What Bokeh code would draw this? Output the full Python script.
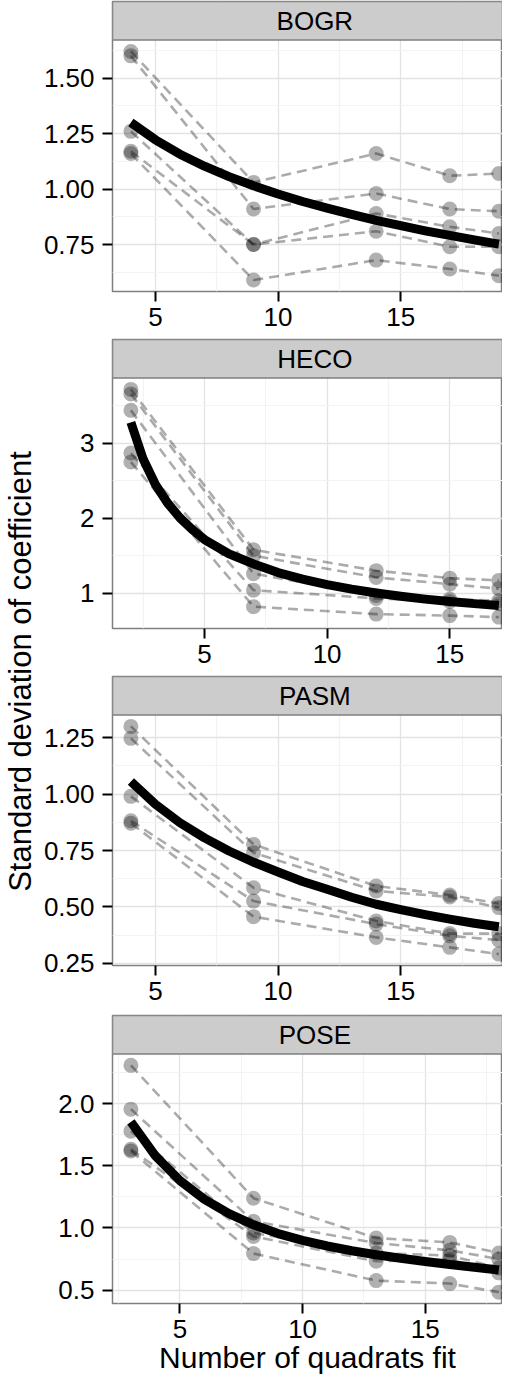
import math
from bokeh.plotting import figure
from bokeh.layouts import row, column
from bokeh.models import Range1d, FixedTicker, PrintfTickFormatter
from bokeh.core.properties import value
from bokeh.embed import file_html
from bokeh.resources import INLINE

FONT = "Liberation Sans"

# ---------------- data ----------------
bogr_x = [4, 9, 14, 17, 19]
bogr_reps = [
    [1.62, 1.03, 1.16, 1.06, 1.07],
    [1.60, 0.91, 0.98, 0.91, 0.90],
    [1.26, 0.75, 0.89, 0.83, 0.80],
    [1.17, 0.75, 0.81, 0.74, 0.74],
    [1.16, 0.59, 0.68, 0.64, 0.61],
]
bogr_curve_x = [4, 5, 6, 7, 8, 9, 10, 11, 12, 13, 14, 15, 16, 17, 18, 19]
bogr_curve_y = [1.300, 1.222, 1.157, 1.103, 1.056, 1.015, 0.978, 0.944,
                0.914, 0.886, 0.859, 0.835, 0.812, 0.791, 0.771, 0.752]
bogr_yticks = [0.75, 1.00, 1.25, 1.50]
bogr_yminor = [0.625, 0.875, 1.125, 1.375, 1.625]
bogr_xminor = [7.5, 12.5, 17.5]

heco_x = [2, 7, 12, 15, 17]
heco_reps = [
    [3.72, 1.58, 1.30, 1.20, 1.17],
    [3.66, 1.50, 1.21, 1.12, 1.06],
    [3.44, 1.26, 0.97, 0.92, 0.90],
    [2.87, 1.04, 0.93, 0.89, 0.86],
    [2.75, 0.82, 0.72, 0.70, 0.68],
]
heco_curve_x = [2, 2.5, 3, 3.5, 4, 4.5, 5, 6, 7, 8, 9, 10, 11, 12, 13, 14, 15, 16, 17]
heco_curve_y = [3.28, 2.79, 2.45, 2.20, 2.005, 1.85, 1.715, 1.525, 1.39, 1.275,
                1.187, 1.114, 1.054, 1.002, 0.958, 0.920, 0.888, 0.860, 0.835]
heco_yticks = [1, 2, 3]
heco_yminor = [1.5, 2.5, 3.5]
heco_xminor = [2.5, 7.5, 12.5, 17.5]

pasm_x = [4, 9, 14, 17, 19]
pasm_reps = [
    [1.300, 0.777, 0.593, 0.553, 0.515],
    [1.247, 0.740, 0.571, 0.544, 0.497],
    [0.990, 0.585, 0.438, 0.382, 0.382],
    [0.882, 0.526, 0.424, 0.372, 0.353],
    [0.871, 0.457, 0.365, 0.321, 0.291],
]
pasm_curve_x = [4, 5, 6, 7, 8, 9, 10, 11, 12, 13, 14, 15, 16, 17, 18, 19]
pasm_curve_y = [1.056, 0.955, 0.873, 0.806, 0.748, 0.698, 0.655, 0.613,
                0.578, 0.543, 0.512, 0.488, 0.466, 0.446, 0.428, 0.412]
pasm_yticks = [0.25, 0.50, 0.75, 1.00, 1.25]
pasm_yminor = [0.375, 0.625, 0.875, 1.125]
pasm_xminor = [7.5, 12.5, 17.5]

pose_x = [3, 8, 13, 16, 18]
pose_reps = [
    [2.307, 1.239, 0.919, 0.884, 0.799],
    [1.955, 1.053, 0.879, 0.820, 0.751],
    [1.778, 0.959, 0.799, 0.778, 0.679],
    [1.632, 0.932, 0.732, 0.746, 0.639],
    [1.618, 0.794, 0.577, 0.553, 0.484],
]
pose_curve_x = [3, 4, 5, 6, 7, 8, 9, 10, 11, 12, 13, 14, 15, 16, 17, 18]
pose_curve_y = [1.853, 1.58, 1.38, 1.23, 1.115, 1.025, 0.955, 0.90,
                0.855, 0.817, 0.785, 0.757, 0.731, 0.707, 0.684, 0.662]
pose_yticks = [0.5, 1.0, 1.5, 2.0]
pose_yminor = [0.75, 1.25, 1.75, 2.25]
pose_xminor = [2.5, 7.5, 12.5, 17.5]

x_ticks = [5, 10, 15]
x_title = "Number of quadrats fit"
y_title = "Standard deviation of coefficient"

# ---------------- layout constants ----------------
FRAME_W = 390
STRIP_H = 38.5
VIS_SPAN = 15.9      # the reference is cropped on the right
LEFT_B = 72
TITLE_W = 40
TOTAL_H = 1373


def make_panel(name, xs, reps, cx, cy, yticks, yminor, xminor, yfmt,
               frame_h, top_b, bot_b, xlabel=None):
    allv = [v for r in reps for v in r]
    ymin, ymax = min(allv), max(allv)
    yr = ymax - ymin
    ylo, yhi = ymin - 0.05 * yr, ymax + 0.05 * yr
    plot_h = frame_h - STRIP_H
    ytop = yhi + STRIP_H / plot_h * (yhi - ylo)
    xlo = min(xs) - 0.05 * (max(xs) - min(xs))
    xhi = xlo + VIS_SPAN

    p = figure(frame_width=FRAME_W, frame_height=frame_h,
               min_border_left=LEFT_B, min_border_right=0,
               min_border_top=top_b, min_border_bottom=bot_b,
               x_range=Range1d(xlo, xhi), y_range=Range1d(ylo, ytop),
               output_backend="svg", toolbar_location=None)
    p.background_fill_color = "white"
    p.border_fill_color = "white"
    p.outline_line_color = "#7f7f7f"
    p.outline_line_width = 1.5

    p.xaxis.ticker = FixedTicker(ticks=x_ticks, minor_ticks=xminor)
    p.yaxis.ticker = FixedTicker(ticks=yticks, minor_ticks=yminor)
    p.yaxis.formatter = PrintfTickFormatter(format=yfmt)
    for ax in p.axis:
        ax.axis_line_color = None
        ax.major_tick_line_color = "black"
        ax.major_tick_line_width = 2
        ax.major_tick_out = 10
        ax.major_tick_in = 0
        ax.minor_tick_line_color = None
        ax.major_label_text_font = FONT
        ax.major_label_text_font_size = "26px"
        ax.major_label_text_color = "black"
    p.xaxis.major_label_standoff = 6
    p.yaxis.major_label_standoff = 8

    for g in (p.xgrid, p.ygrid):
        g.grid_line_color = "#e3e3e3"
        g.grid_line_width = 1.3
        g.minor_grid_line_color = "#f3f3f3"
        g.minor_grid_line_width = 1.2

    # strip
    p.quad(left=[xlo], right=[xhi], bottom=[yhi], top=[ytop],
           fill_color="#cccccc", line_color="#7f7f7f", line_width=1.5)
    p.text(x=[(min(xs) + max(xs)) / 2], y=[(yhi + ytop) / 2], text=[name],
           text_font=value(FONT), text_font_size="26px", text_color="black",
           text_align="center", text_baseline="middle")

    # replicate dashed lines and points
    for r in reps:
        p.line(xs, r, line_color="black", line_alpha=0.33, line_width=2.6,
               line_dash="10 6")
    px = [x for r in reps for x in xs]
    py = [v for r in reps for v in r]
    p.scatter(px, py, size=15, fill_color="black", fill_alpha=0.31,
              line_color=None)

    # fitted curve
    p.line(cx, cy, line_color="black", line_width=9, line_cap="butt",
           line_join="round")

    if xlabel:
        p.xaxis.axis_label = xlabel
        p.xaxis.axis_label_text_font = FONT
        p.xaxis.axis_label_text_font_size = "30px"
        p.xaxis.axis_label_text_font_style = "normal"
        p.xaxis.axis_label_text_color = "black"
        p.xaxis.axis_label_standoff = 0
    return p


p1 = make_panel("BOGR", bogr_x, bogr_reps, bogr_curve_x, bogr_curve_y,
                bogr_yticks, bogr_yminor, bogr_xminor, "%.2f", 290, 1, 47)
p2 = make_panel("HECO", heco_x, heco_reps, heco_curve_x, heco_curve_y,
                heco_yticks, heco_yminor, heco_xminor, "%d", 289, 1, 47)
p3 = make_panel("PASM", pasm_x, pasm_reps, pasm_curve_x, pasm_curve_y,
                pasm_yticks, pasm_yminor, pasm_xminor, "%.2f", 289, 1, 48)
p4 = make_panel("POSE", pose_x, pose_reps, pose_curve_x, pose_curve_y,
                pose_yticks, pose_yminor, pose_xminor, "%.1f", 288, 2, 70,
                xlabel=x_title)

t = figure(width=TITLE_W, height=TOTAL_H, x_range=Range1d(0, TITLE_W),
           y_range=Range1d(0, TOTAL_H), min_border=0, toolbar_location=None,
           output_backend="svg", x_axis_type=None, y_axis_type=None)
t.outline_line_color = None
t.background_fill_color = "white"
t.border_fill_color = "white"
t.text(x=[19.5], y=[TOTAL_H - (679 - 8)], text=[y_title], angle=math.pi / 2,
       text_font=value(FONT), text_font_size="31px", text_color="black",
       text_align="center", text_baseline="middle")

layout = row(t, column(p1, p2, p3, p4))

open("out.html", "w").write(file_html(layout, INLINE))
